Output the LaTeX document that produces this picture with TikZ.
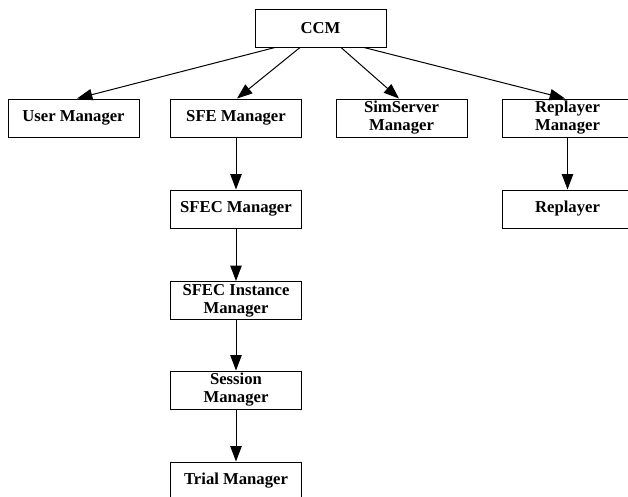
\documentclass[tikz,border=0pt]{standalone}
\usepackage{fontspec}
\setmainfont{Liberation Serif}
\usetikzlibrary{arrows.meta,calc}
\begin{document}
\begin{tikzpicture}[x=0.75pt,y=-0.75pt,
  box/.style={draw=black,line width=0.75pt,minimum width=131*0.75pt,minimum height=38*0.75pt,
    inner sep=0pt,align=center,font=\fontsize{12.5}{13.5}\selectfont\bfseries},
  arr/.style={line width=0.75pt,-{Triangle[length=11.5pt,width=8.5pt]}}]
\useasboundingbox (0,0) rectangle (628,496);
\clip (0,0) rectangle (628,496);
\node[box] (ccm) at (320.5,28) {CCM};
\node[box] (user) at (73.5,118) {User Manager};
\node[box] (sfe) at (236,118) {SFE Manager};
\node[box] (sim) at (401.5,118) {SimServer\\Manager};
\node[box] (rpm) at (567.5,118) {Replayer\\Manager};
\node[box] (sfec) at (236,209) {SFEC Manager};
\node[box] (inst) at (236,300.5) {SFEC Instance\\Manager};
\node[box] (sess) at (236,390) {Session\\Manager};
\node[box] (trial) at (236,481) {Trial Manager};
\node[box] (rp) at (567.5,209) {Replayer};
\draw[arr] ($(ccm.south)+(-45.5,0)$) -- ($(user.north)+(3.5,0)$);
\draw[arr] ($(ccm.south)+(-20.5,0)$) -- ($(sfe.north)+(1,0)$);
\draw[arr] ($(ccm.south)+(20.5,0)$) -- ($(sim.north)+(-2.5,0)$);
\draw[arr] ($(ccm.south)+(43.5,0)$) -- ($(rpm.north)+(-2.5,0)$);
\draw[arr] (sfe) -- (sfec);
\draw[arr] (sfec) -- (inst);
\draw[arr] (inst) -- (sess);
\draw[arr] (sess) -- (trial);
\draw[arr] (rpm) -- (rp);
\end{tikzpicture}
\end{document}
